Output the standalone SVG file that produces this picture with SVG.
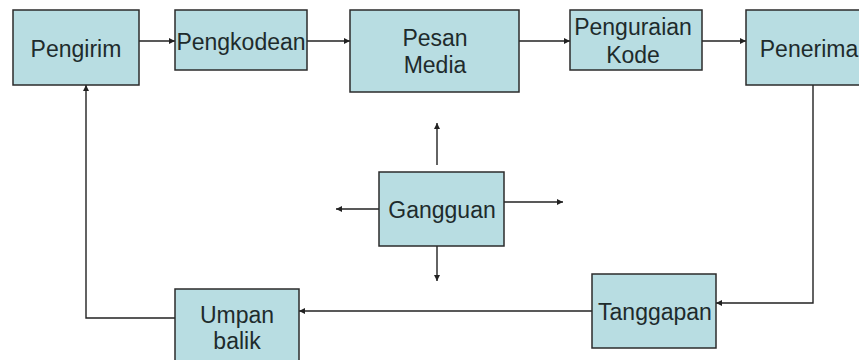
<svg xmlns="http://www.w3.org/2000/svg" width="859" height="360" viewBox="0 0 859 360">
<style>
.box{fill:#b8dde2;stroke:#2b2b2b;stroke-width:1.5}
.t{font-family:"Liberation Sans",Arial,sans-serif;font-size:23px;fill:#1e2b2c;text-anchor:middle}
.c{fill:none;stroke:#222;stroke-width:1.4}
</style>
<defs>
<marker id="a" viewBox="0 0 10 10" refX="10" refY="5" markerWidth="6" markerHeight="6" markerUnits="userSpaceOnUse" orient="auto">
<path d="M0,0 L10,5 L0,10 z" fill="#222"/>
</marker>
</defs>
<rect width="859" height="360" fill="#fff"/>
<g id="connectors">
<path class="c" d="M139,41 H175" marker-end="url(#a)"/>
<path class="c" d="M307,41 H350" marker-end="url(#a)"/>
<path class="c" d="M519,41 H570" marker-end="url(#a)"/>
<path class="c" d="M702,41 H746" marker-end="url(#a)"/>
<path class="c" d="M813,85 V303 H716" marker-end="url(#a)"/>
<path class="c" d="M592,311 H299" marker-end="url(#a)"/>
<path class="c" d="M175,318 H86 V85" marker-end="url(#a)"/>
<path class="c" d="M437,165 V123" marker-end="url(#a)"/>
<path class="c" d="M379,209 H336" marker-end="url(#a)"/>
<path class="c" d="M504,202 H563" marker-end="url(#a)"/>
<path class="c" d="M437,246 V281" marker-end="url(#a)"/>
</g>
<g id="pengirim"><rect class="box" x="13" y="10" width="126" height="75"/><text class="t" x="76" y="57">Pengirim</text></g>
<g id="pengkodean"><rect class="box" x="175" y="10" width="132" height="60"/><text class="t" x="241" y="50">Pengkodean</text></g>
<g id="pesan-media"><rect class="box" x="350" y="10" width="169" height="82"/><text class="t" x="435" y="46">Pesan</text><text class="t" x="435" y="73">Media</text></g>
<g id="penguraian-kode"><rect class="box" x="570" y="10" width="132" height="60"/><text class="t" x="633" y="35">Penguraian</text><text class="t" x="633" y="63">Kode</text></g>
<g id="penerima"><rect class="box" x="746" y="10" width="120" height="75"/><text class="t" x="809" y="57">Penerima</text></g>
<g id="gangguan"><rect class="box" x="379" y="172" width="125" height="74"/><text class="t" x="442" y="218">Gangguan</text></g>
<g id="tanggapan"><rect class="box" x="592" y="274" width="124" height="74"/><text class="t" x="655" y="320">Tanggapan</text></g>
<g id="umpan-balik"><rect class="box" x="175" y="289" width="124" height="80"/><text class="t" x="237" y="323">Umpan</text><text class="t" x="237" y="349">balik</text></g>
</svg>
